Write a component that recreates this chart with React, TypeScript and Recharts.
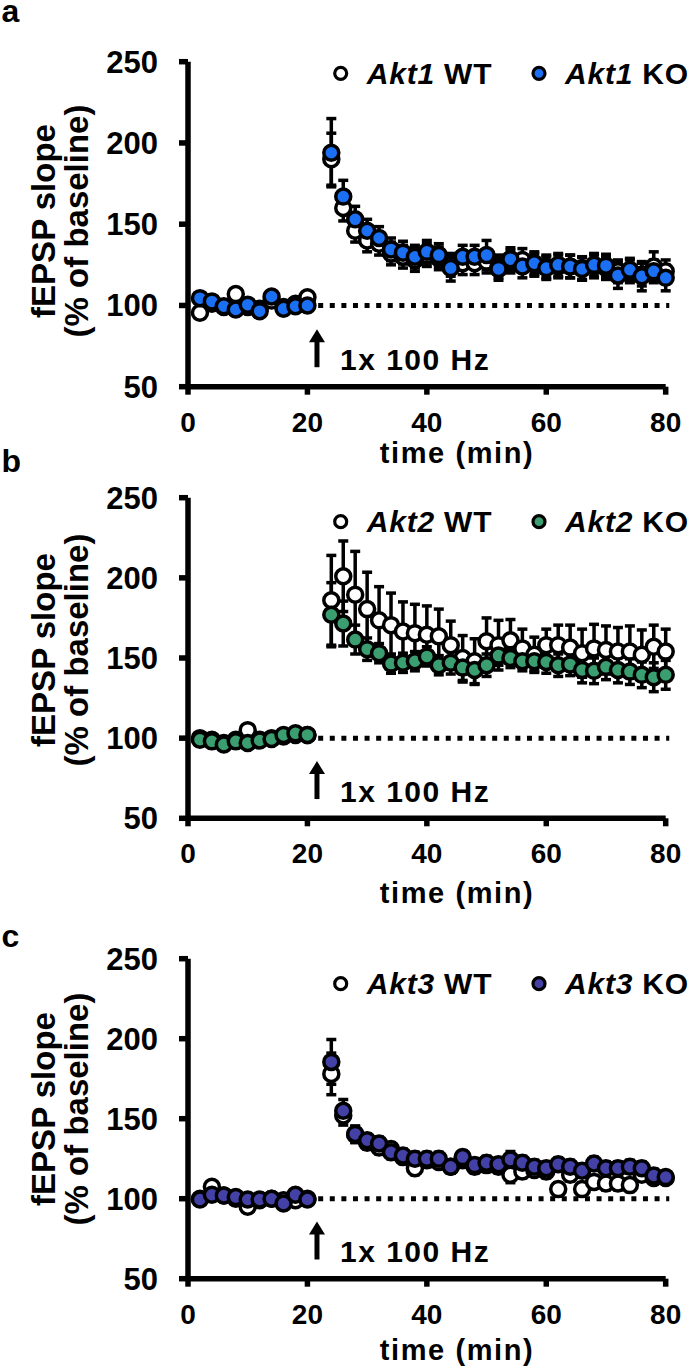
import React from "react";
import {
  LineChart,
  Line,
  XAxis,
  YAxis,
  ErrorBar,
  ReferenceLine,
  ReferenceDot,
} from "recharts";

// time points (min): baseline every 2 min, then post-tetanus every 2 min
const TIMES = [
  2, 4, 6, 8, 10, 12, 14, 16, 18, 20,
  24, 26, 28, 30, 32, 34, 36, 38, 40, 42, 44, 46, 48, 50, 52, 54, 56, 58, 60,
  62, 64, 66, 68, 70, 72, 74, 76, 78, 80,
];

const X_TICKS = [0, 20, 40, 60, 80];
const Y_TICKS = [50, 100, 150, 200, 250];

// panel a - Akt1
const AKT1_WT = [
  95.5, 101, 99, 107, 99, 98, 103, 99, 101, 105,
  190, 160, 146, 140, 138, 132, 130, 128, 131, 129, 125, 126, 126, 127, 124,
  127, 128, 125, 124, 124, 124, 123, 124, 123, 121, 121, 119, 124, 121,
];
const AKT1_WT_SEM = [
  3, 3, 3, 3, 3, 3, 3, 3, 3, 3,
  16, 8, 7, 7, 7, 7, 7, 7, 7, 7, 7, 7, 7, 7, 7,
  7, 7, 7, 7, 7, 7, 7, 7, 7, 7, 7, 7, 9, 7,
];
const AKT1_KO = [
  104.5, 102.5, 99.5, 97.5, 100.5, 96.5, 105.5, 98, 99.5, 100,
  194, 167, 153, 146, 141.5, 134.5, 132.5, 130, 133, 131, 123, 130, 130, 131, 122.5,
  128.5, 124, 126, 123, 125, 124, 122.5, 125, 124.5, 118.5, 122, 118, 121, 117,
];
const AKT1_KO_SEM = [
  3, 3, 3, 3, 3, 3, 3, 3, 3, 3,
  21, 10, 8, 7, 7, 7, 7, 7, 7, 7, 8, 7, 7, 9, 7,
  7, 7, 7, 7, 7, 7, 7, 7, 7, 8, 7, 9, 7, 8,
];

// panel b - Akt2
const AKT2_WT = [
  100, 99, 97, 99, 105, 99, 100, 101, 102, 102,
  186, 201, 189.5, 180.5, 173.5, 170.5, 166.5, 165.5, 164.5, 163.5, 158, 150, 148, 160.5, 158,
  161, 156, 152, 158, 158, 156.5, 153, 156, 155, 154, 154, 152, 157, 154,
];
const AKT2_WT_SEM = [
  2, 2, 2, 2, 2, 2, 2, 2, 2, 2,
  28, 22, 27, 23, 21, 20, 18.5, 18, 18, 17, 15, 14, 14, 14.5, 15.5,
  13, 12, 11, 10, 12.5, 14, 15, 15, 15, 15, 16, 15.5, 13.5, 14,
];
const AKT2_KO = [
  99, 98, 96, 98, 97, 98.5, 99.5, 102, 103, 102,
  177, 171.5, 161.5, 155.5, 153, 146.5, 147, 148, 151, 145.5, 147, 144, 142.5, 145.5, 151.5,
  150, 148, 148, 147.5, 145.5, 146, 142.5, 142, 144.5, 142.5, 141.5, 139.5, 138, 139.5,
];
const AKT2_KO_SEM = [
  2, 2, 2, 2, 2, 2, 2, 2, 2, 2,
  20, 14, 9, 7, 6, 6, 6, 6, 6, 6, 7, 9, 9, 7, 6,
  6, 6, 6, 7, 7, 7, 8, 8, 8, 8, 8, 8, 9, 9,
];

// panel c - Akt3
const AKT3_WT = [
  100, 107.5, 102, 100, 95, 99, 100, 99, 99, 100,
  178, 152, 140, 135, 132, 131, 126, 119, 124, 123, 120, 124, 120, 121, 120,
  115, 117, 118, 117, 106, 115, 106, 110.5, 109.5, 109.5, 108.5, 115, 113, 113,
];
const AKT3_WT_SEM = [
  2, 2, 2, 2, 2, 2, 2, 2, 2, 2,
  13, 6, 5, 4, 4, 4, 4, 4, 4, 4, 4, 4, 4, 4, 4,
  5, 4, 4, 4, 4, 4, 4, 4, 4, 4, 4, 4, 4, 3,
];
const AKT3_KO = [
  99.5, 102.5, 102, 101, 99.5, 99.5, 100, 97, 102.5, 99.5,
  185.5, 155, 140.5, 136.5, 134.5, 129, 127, 125, 125, 125, 120, 126, 121, 122.5, 121.5,
  124.5, 122.5, 120, 119, 121.5, 120, 117.5, 122, 119, 119, 120, 119, 114.5, 113.5,
];
const AKT3_KO_SEM = [
  2, 2, 2, 2, 2, 2, 2, 2, 2, 2,
  14, 7, 5, 4, 4, 4, 4, 4, 4, 4, 4, 4, 4, 4, 4,
  5, 4, 4, 4, 4, 4, 4, 4, 4, 4, 4, 4, 4, 3,
];

const FONT = '"Liberation Sans", Arial, Helvetica, sans-serif';
const STIM_TIME = 21.6;
const DOT_R = 7.5;
const DOT_STROKE = 3.5;

const tickStyle = { fill: "#000", fontWeight: 700, fontFamily: FONT };

function StimArrow(props: any) {
  const { cx, cy } = props;
  return (
    <g>
      <line x1={cx} y1={cy} x2={cx} y2={cy - 27} stroke="#000" strokeWidth={5} />
      <polygon
        points={`${cx - 8},${cy - 25} ${cx + 8},${cy - 25} ${cx},${cy - 38}`}
        fill="#000"
      />
      <text
        x={cx + 23}
        y={cy + 3}
        fontSize={30}
        fontWeight={700}
        fontFamily={FONT}
        letterSpacing={1.5}
        fill="#000"
      >
        1x 100 Hz
      </text>
    </g>
  );
}

function makeDot(fill: string) {
  return (props: any) => {
    const { cx, cy, index } = props;
    if (cx == null || cy == null) return <g key={`d-${index}`} />;
    return (
      <circle
        key={`d-${index}`}
        cx={cx}
        cy={cy}
        r={DOT_R}
        fill={fill}
        stroke="#000"
        strokeWidth={DOT_STROKE}
      />
    );
  };
}

type PanelProps = {
  letter: string;
  gene: string;
  color: string;
  wt: number[];
  wtSem: number[];
  ko: number[];
  koSem: number[];
  top: number;
  height: number;
  plotHeight: number;
  letterY: number;
  legendY: number;
  yLabelY: number;
  xLabelY: number;
};

function Panel(p: PanelProps) {
  const data = TIMES.map((t, i) => ({
    t,
    wt: p.wt[i],
    wtSem: p.wtSem[i],
    ko: p.ko[i],
    koSem: p.koSem[i],
  }));
  const marginTop = 61.7;
  const axisHeight = p.height - marginTop - p.plotHeight;

  return (
    <div style={{ position: "absolute", left: 0, top: p.top, width: 696, height: p.height }}>
      <LineChart
        width={696}
        height={p.height}
        data={data}
        margin={{ top: marginTop, right: 30.3, bottom: 0, left: 0 }}
      >
        <XAxis
          type="number"
          dataKey="t"
          domain={[0, 80]}
          ticks={X_TICKS}
          height={axisHeight}
          axisLine={{ stroke: "#000", strokeWidth: 5.5 }}
          tickLine={{ stroke: "#000", strokeWidth: 5.5 }}
          tickSize={8}
          tickMargin={17}
          tick={{ ...tickStyle, fontSize: 28 }}
        />
        <YAxis
          type="number"
          domain={[50, 250]}
          ticks={Y_TICKS}
          width={188}
          axisLine={{ stroke: "#000", strokeWidth: 5.5 }}
          tickLine={{ stroke: "#000", strokeWidth: 5.5 }}
          tickSize={9}
          tickMargin={21}
          tick={{ ...tickStyle, fontSize: 31 }}
        />
        <ReferenceLine
          segment={[
            { x: 21.8, y: 100 },
            { x: 80.6, y: 100 },
          ]}
          stroke="#000"
          strokeWidth={5}
          strokeDasharray="5 6.6"
          ifOverflow="visible"
        />
        <ReferenceDot x={STIM_TIME} y={62} shape={StimArrow} />
        <Line
          dataKey="wt"
          stroke="none"
          dot={makeDot("#fff")}
          activeDot={false}
          isAnimationActive={false}
        >
          <ErrorBar dataKey="wtSem" width={5} stroke="#000" strokeWidth={3.5} direction="y" isAnimationActive={false} />
        </Line>
        <Line
          dataKey="ko"
          stroke="none"
          dot={makeDot(p.color)}
          activeDot={false}
          isAnimationActive={false}
        >
          <ErrorBar dataKey="koSem" width={5} stroke="#000" strokeWidth={3.5} direction="y" isAnimationActive={false} />
        </Line>
      </LineChart>

      <svg
        width={696}
        height={p.height}
        style={{ position: "absolute", left: 0, top: 0, overflow: "visible", pointerEvents: "none" }}
        fontFamily={FONT}
        fontWeight={700}
        fill="#000"
      >
        <text x={1.5} y={p.letterY} fontSize={32}>
          {p.letter}
        </text>

        <g transform={`translate(0, ${p.legendY})`}>
          <circle cx={340.7} cy={0} r={6} fill="#fff" stroke="#000" strokeWidth={3.2} />
          <text x={366.7} y={10.5} fontSize={30} letterSpacing={0.8}>
            <tspan fontStyle="italic">{p.gene}</tspan> WT
          </text>
          <circle cx={539} cy={0} r={6} fill={p.color} stroke="#000" strokeWidth={3.2} />
          <text x={565} y={10.5} fontSize={30} letterSpacing={0.8}>
            <tspan fontStyle="italic">{p.gene}</tspan> KO
          </text>
        </g>

        <text
          transform={`translate(55, ${p.yLabelY}) rotate(-90)`}
          textAnchor="middle"
          fontSize={33}
        >
          fEPSP slope
        </text>
        <text
          transform={`translate(88.4, ${p.yLabelY}) rotate(-90)`}
          textAnchor="middle"
          fontSize={33}
        >
          (% of baseline)
        </text>

        <text x={457} y={p.xLabelY} textAnchor="middle" fontSize={29} letterSpacing={1.6}>
          time (min)
        </text>
      </svg>
    </div>
  );
}

export default function App() {
  return (
    <div
      style={{
        position: "absolute",
        left: 0,
        top: 0,
        width: 696,
        height: 1371,
        background: "#fff",
        overflow: "hidden",
      }}
    >
      <style>{`.recharts-surface { overflow: visible; }`}</style>
      <Panel
        letter="a"
        gene="Akt1"
        color="#1a6ff2"
        wt={AKT1_WT}
        wtSem={AKT1_WT_SEM}
        ko={AKT1_KO}
        koSem={AKT1_KO_SEM}
        top={0}
        height={436}
        plotHeight={325}
        letterY={22}
        legendY={73.3}
        yLabelY={221}
        xLabelY={463}
      />
      <Panel
        letter="b"
        gene="Akt2"
        color="#3a9e70"
        wt={AKT2_WT}
        wtSem={AKT2_WT_SEM}
        ko={AKT2_KO}
        koSem={AKT2_KO_SEM}
        top={436}
        height={460.6}
        plotHeight={320.6}
        letterY={35.7}
        legendY={85.7}
        yLabelY={214}
        xLabelY={466.5}
      />
      <Panel
        letter="c"
        gene="Akt3"
        color="#4340a6"
        wt={AKT3_WT}
        wtSem={AKT3_WT_SEM}
        ko={AKT3_KO}
        koSem={AKT3_KO_SEM}
        top={896.6}
        height={474.4}
        plotHeight={320}
        letterY={50.4}
        legendY={86.7}
        yLabelY={212}
        xLabelY={462.5}
      />
    </div>
  );
}
